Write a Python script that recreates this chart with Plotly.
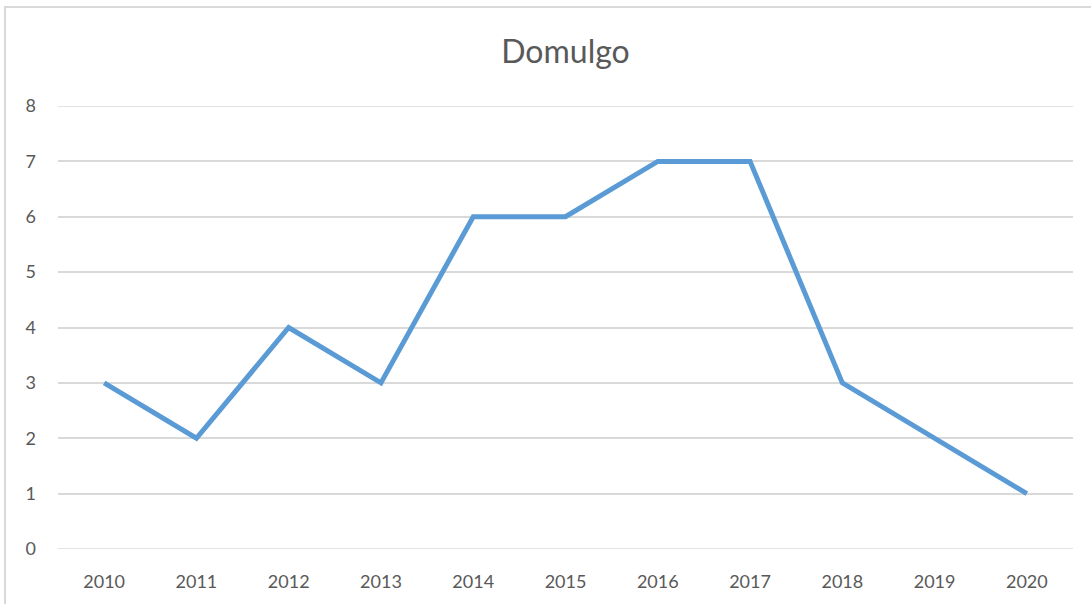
import plotly.graph_objects as go

years = ["2010", "2011", "2012", "2013", "2014", "2015", "2016", "2017", "2018", "2019", "2020"]
values = [3, 2, 4, 3, 6, 6, 7, 7, 3, 2, 1]
y_ticks = [0, 1, 2, 3, 4, 5, 6, 7, 8]

W, H = 1091, 604
L, R, T, B = 58, 18, 106, 55
pw, ph = W - L - R, H - T - B
grid = "#D9D9D9"

fig = go.Figure()
fig.add_trace(go.Scatter(
    x=years, y=values, mode="lines",
    line=dict(color="#5B9BD5", width=5),
    hoverinfo="x+y", showlegend=False,
))

font = "Lato, 'Open Sans', sans-serif"
edge_lines = [dict(type="line", xref="paper", yref="y", x0=0, x1=1, y0=v, y1=v,
                   line=dict(color=grid, width=1.5), layer="below")
              for v in (y_ticks[0], y_ticks[-1])]
fig.update_layout(
    width=W, height=H,
    margin=dict(l=L, r=R, t=T, b=B, autoexpand=False),
    paper_bgcolor="white", plot_bgcolor="white",
    font=dict(family=font, color="#595959", size=18),
    title=dict(text="Domulgo", x=0.5, xref="paper", xanchor="center",
               y=1 - 52 / H, yref="container", yanchor="middle",
               font=dict(size=32, color="#595959", family=font)),
    xaxis=dict(type="category", showgrid=False, zeroline=False, showline=False,
               ticks="", tickfont=dict(size=18), range=[-0.5, 10.5],
               ticklabelstandoff=20),
    yaxis=dict(range=[0, 8], tickvals=y_ticks, showgrid=True, gridcolor=grid,
               gridwidth=1.5, zeroline=False, showline=False, ticks="",
               tickfont=dict(size=18), ticklabelstandoff=21),
    shapes=[dict(type="rect", xref="paper", yref="paper",
                 x0=(5 - L) / pw, x1=1.2, y0=-0.5, y1=(H - B - 7) / ph,
                 line=dict(color=grid, width=2), fillcolor="rgba(0,0,0,0)",
                 layer="below")] + edge_lines,
)

fig.write_html("out.html", config={"displayModeBar": False},
               post_script="document.body.style.margin='0';document.body.style.padding='0';")
